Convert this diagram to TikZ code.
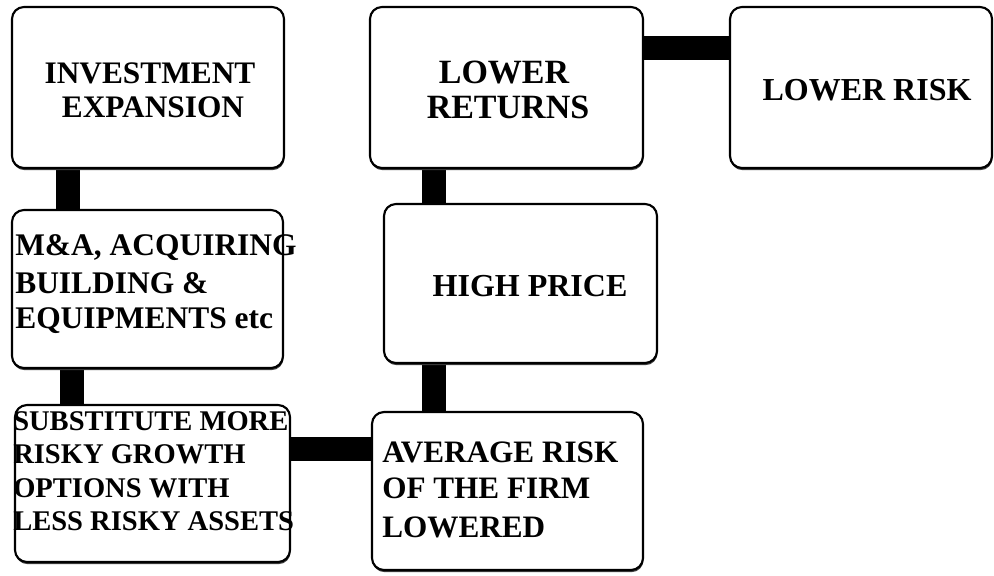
\documentclass[tikz,border=0pt]{standalone}
\usepackage{fontspec}
\setmainfont{Liberation Serif}
\usetikzlibrary{shadows,backgrounds}
\tikzset{
  box/.style={draw=black, line width=1.6pt, rounded corners=9pt, fill=white, inner sep=0pt,
    drop shadow={shadow xshift=0.4pt, shadow yshift=-1.6pt, fill=black!75, opacity=1}},
  bar/.style={line width=18pt, black},
  txt/.style={inner sep=0pt, font=\bfseries},
}
\begin{document}
\begin{tikzpicture}[x=0.75pt,y=-0.75pt]
\useasboundingbox (0,0) rectangle (994,575);
% boxes
\node[box, minimum width=204pt, minimum height=120.75pt] (b1) at (148,87.5) {};
\node[box, minimum width=203.25pt, minimum height=118.5pt] (b2) at (147.5,289) {};
\node[box, minimum width=206.25pt, minimum height=117.75pt] (b3) at (152.5,483.5) {};
\node[box, minimum width=203.25pt, minimum height=118.5pt] (b4) at (507.5,491) {};
\node[box, minimum width=204.75pt, minimum height=119.25pt] (b5) at (520.5,283.5) {};
\node[box, minimum width=204.75pt, minimum height=120.75pt] (b6) at (506.5,87.5) {};
\node[box, minimum width=196.5pt, minimum height=120.75pt] (b7) at (861,87.5) {};
% connectors
\begin{scope}[on background layer]
\draw[bar] (b1.south -| 67.5,0) -- (b2.north -| 67.5,0);
\draw[bar] (b2.south -| 71.5,0) -- (b3.north -| 71.5,0);
\draw[bar] (b3.east |- 0,449) -- (b4.west |- 0,449);
\draw[bar] (b4.north -| 434,0) -- (b5.south -| 434,0);
\draw[bar] (b5.north -| 433.5,0) -- (b6.south -| 433.5,0);
\draw[bar] (b6.east |- 0,48) -- (b7.west |- 0,48);
\end{scope}
% texts
\begin{scope}[txt]
\node[anchor=base, font=\bfseries\fontsize{23.5pt}{28pt}\selectfont] (t1a) at (150,83) {INVESTMENT};
\node[anchor=base, font=\bfseries\fontsize{23.5pt}{28pt}\selectfont] (t1b) at (153,117) {EXPANSION};
\node[anchor=base west, font=\bfseries\fontsize{23.6pt}{28pt}\selectfont] (t2a) at (15,255) {M\&A, ACQUIRING};
\node[anchor=base west, font=\bfseries\fontsize{23.6pt}{28pt}\selectfont] (t2b) at (15,293) {BUILDING \&};
\node[anchor=base west, font=\bfseries\fontsize{23.6pt}{28pt}\selectfont] (t2c) at (15,328) {EQUIPMENTS etc};
\node[anchor=base west, font=\bfseries\fontsize{21.4pt}{26pt}\selectfont] (t3a) at (13,430) {SUBSTITUTE MORE};
\node[anchor=base west, font=\bfseries\fontsize{21.4pt}{26pt}\selectfont] (t3b) at (13,463) {RISKY GROWTH};
\node[anchor=base west, font=\bfseries\fontsize{21.4pt}{26pt}\selectfont] (t3c) at (13,497) {OPTIONS WITH};
\node[anchor=base west, font=\bfseries\fontsize{21.4pt}{26pt}\selectfont] (t3d) at (13,530) {LESS RISKY ASSETS};
\node[anchor=base west, font=\bfseries\fontsize{23.4pt}{28pt}\selectfont] (t4a) at (382,462) {AVERAGE RISK};
\node[anchor=base west, font=\bfseries\fontsize{23.4pt}{28pt}\selectfont] (t4b) at (382,498) {OF THE FIRM};
\node[anchor=base west, font=\bfseries\fontsize{23.4pt}{28pt}\selectfont] (t4c) at (382,537) {LOWERED};
\node[anchor=base, font=\bfseries\fontsize{24pt}{28pt}\selectfont] (t5) at (530,296) {HIGH PRICE};
\node[anchor=base, font=\bfseries\fontsize{25.5pt}{30pt}\selectfont] (t6a) at (504,83) {LOWER};
\node[anchor=base, font=\bfseries\fontsize{25.5pt}{30pt}\selectfont] (t6b) at (508,118) {RETURNS};
\node[anchor=base, font=\bfseries\fontsize{24pt}{28pt}\selectfont] (t7) at (867,100) {LOWER RISK};
\end{scope}
\end{tikzpicture}
\end{document}
